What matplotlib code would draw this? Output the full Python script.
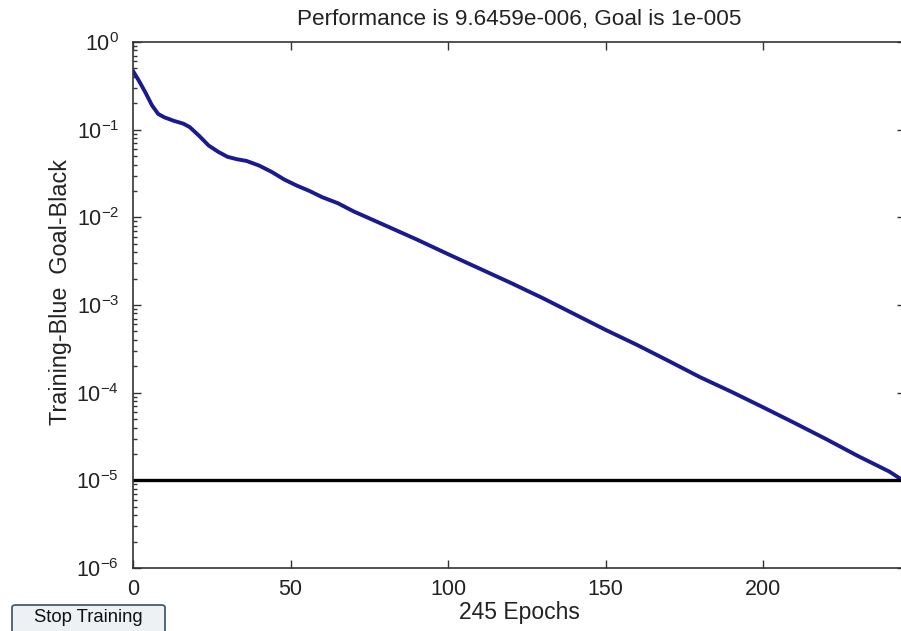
import matplotlib
matplotlib.use("Agg")
import matplotlib.pyplot as plt
from matplotlib.patches import FancyBboxPatch
from matplotlib.ticker import LogLocator, NullFormatter, FixedLocator

plt.rcParams['font.family'] = ['Liberation Sans', 'DejaVu Sans']
plt.rcParams['mathtext.fontset'] = 'custom'
plt.rcParams['mathtext.rm'] = 'Liberation Sans'

epochs = [0, 2, 4, 6, 8, 10, 13, 16, 18, 21, 24, 27, 30, 33, 36, 40, 44, 48,
          52, 56, 60, 65, 70, 80, 90, 100, 110, 120, 130, 140, 150, 160, 170,
          180, 190, 200, 210, 220, 230, 240, 245]
performance = [0.468, 0.355, 0.263, 0.19, 0.151, 0.138, 0.126, 0.117, 0.107,
               0.085, 0.066, 0.056, 0.049, 0.046, 0.044, 0.039, 0.033, 0.027,
               0.023, 0.020, 0.017, 0.0145, 0.0117, 0.0081, 0.0056, 0.0038,
               0.0026, 0.00178, 0.0012, 7.9e-4, 5.2e-4, 3.5e-4, 2.3e-4,
               1.5e-4, 1.02e-4, 6.8e-5, 4.5e-5, 2.95e-5, 1.9e-5, 1.26e-5,
               9.6459e-6]
goal = 1e-5
n_epochs = 245
x_ticks = [0, 50, 100, 150, 200]
title = "Performance is 9.6459e-006, Goal is 1e-005"
ylabel = "Training-Blue  Goal-Black"
xlabel = "245 Epochs"

fig = plt.figure(figsize=(9.01, 6.31), dpi=100)
ax = fig.add_axes([133/901, 63/631, (905-133)/901, 526/631])

ax.plot(epochs, performance, color='#1a1a90', lw=2.8, solid_joinstyle='round')
ax.plot([0, n_epochs], [goal, goal], color='black', lw=2.4)

ax.set_yscale('log')
ax.set_xlim(0, n_epochs)
ax.set_ylim(1e-6, 1)
ax.xaxis.set_major_locator(FixedLocator(x_ticks))
ax.yaxis.set_major_locator(LogLocator(base=10, numticks=10))
ax.yaxis.set_minor_locator(LogLocator(base=10, subs=range(2, 10), numticks=20))
ax.yaxis.set_minor_formatter(NullFormatter())

for s in ax.spines.values():
    s.set_color('#333333')
    s.set_linewidth(1.2)

ax.tick_params(which='both', direction='in', top=True, right=True, colors='#333333',
               labelcolor='#222222', labelsize=15.5)
ax.tick_params(which='major', length=6, width=1)
ax.tick_params(which='minor', length=3, width=1)
ax.tick_params(axis='x', pad=8)
ax.tick_params(axis='y', pad=10)

ax.set_title(title, fontsize=16.2, color='#222222', pad=12)
ax.set_xlabel(xlabel, fontsize=16.5, color='#222222', labelpad=1)
ax.set_ylabel(ylabel, fontsize=16.8, color='#222222')
ax.yaxis.set_label_coords(-0.079, 0.525)

# Stop Training button
btn = FancyBboxPatch((12/901, -6/631), 153/901, 32/631,
                     boxstyle="round,pad=0,rounding_size=0.004",
                     transform=fig.transFigure, facecolor='#eef1f4',
                     edgecolor='#4a5a6a', lw=1.3)
fig.patches.append(btn)
fig.text(88/901, (631-617)/631, "Stop Training", ha='center', va='center',
         fontsize=13.3, color='#111111')

fig.savefig("out.png", dpi=100)
